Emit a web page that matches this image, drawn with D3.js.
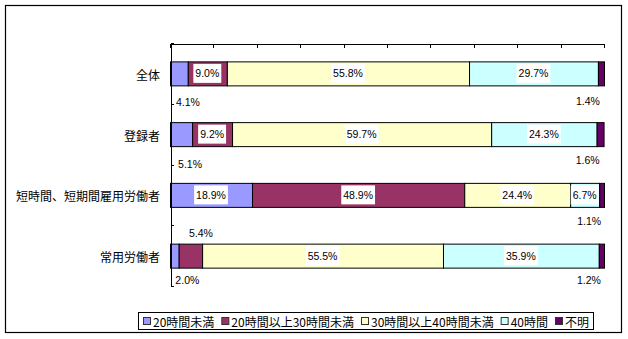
<!DOCTYPE html>
<html><head><meta charset="utf-8">
<script src="https://cdn.jsdelivr.net/npm/d3@7"></script>
<style>
html,body{margin:0;padding:0;background:#fff;}
svg{display:block;}
</style></head>
<body><svg id="chart" width="628" height="339"></svg>
<script>
// ---- data ----
const categories = ["全体", "登録者", "短時間、短期間雇用労働者", "常用労働者"];
const seriesNames = ["20時間未満", "20時間以上30時間未満", "30時間以上40時間未満", "40時間", "不明"];
const under20 = [4.1, 5.1, 18.9, 2.0];
const from20to30 = [9.0, 9.2, 48.9, 5.4];
const from30to40 = [55.8, 59.7, 24.4, 55.5];
const exactly40 = [29.7, 24.3, 6.7, 35.9];
const unknown = [1.4, 1.6, 1.1, 1.2];
const xTickValues = [0, 10, 20, 30, 40, 50, 60, 70, 80, 90, 100];

// ---- styling / placement ----
const colors = ["#9999ff", "#993366", "#ffffcc", "#ccffff", "#660066"];
// labels that sit outside the bar: [dx, dy] from segment centre
const outsideLabel = {
  "0|0": [9, 29], "0|4": [-13, 28],
  "1|0": [9, 30], "1|4": [-12.5, 26],
  "2|4": [-12.5, 26.5],
  "3|0": [13, 24], "3|1": [10.5, -23], "3|4": [-12.5, 24]
};

const svg = d3.select("#chart");
const series = [under20, from20to30, from30to40, exactly40, unknown];
const rows = categories.map((c, i) => {
  const o = { cat: c };
  seriesNames.forEach((s, j) => o[s] = series[j][i]);
  return o;
});
const stacked = d3.stack().keys(seriesNames)(rows);

const plot = { left: 170, right: 604, top: 43, bottom: 286 };
const x = d3.scaleLinear().domain([0, 100]).range([plot.left, plot.right]);
const y = d3.scaleBand().domain(categories).range([plot.top, plot.bottom]).padding(0);
const barH = 24;

// outer frame
svg.append("rect").attr("x", 5.5).attr("y", 5.5).attr("width", 616).attr("height", 327)
  .attr("fill", "#fff").attr("stroke", "#000").attr("stroke-width", 1.2);

// bars
stacked.forEach((layer, j) => {
  svg.append("g").selectAll("rect").data(layer).join("rect")
    .attr("x", d => x(d[0]) + 0.5)
    .attr("y", (d, i) => y(categories[i]) + y.bandwidth() / 2 - barH / 2 + 0.5)
    .attr("width", d => Math.max(0, x(d[1]) - x(d[0])))
    .attr("height", barH)
    .attr("fill", colors[j])
    .attr("stroke", "#000").attr("stroke-width", 1);
});

// category labels
svg.append("g").selectAll("text").data(categories).join("text")
  .attr("x", 160)
  .attr("y", d => y(d) + y.bandwidth() / 2 + 1)
  .attr("text-anchor", "end").attr("dominant-baseline", "central")
  .attr("font-family", "'Noto Sans CJK JP', sans-serif").attr("font-size", 12)
  .text(d => d);

// data labels
const labG = svg.append("g");
stacked.forEach((layer, j) => {
  layer.forEach((d, i) => {
    const key = i + "|" + j;
    const cx = (x(d[0]) + x(d[1])) / 2;
    const cy = y(categories[i]) + y.bandwidth() / 2;
    const off = outsideLabel[key] || [0, 0];
    const g = labG.append("g").attr("transform", `translate(${cx + off[0]},${cy + off[1]})`);
    const t = g.append("text")
      .attr("text-anchor", "middle").attr("dominant-baseline", "central")
      .attr("font-family", "'Liberation Sans', Arial, sans-serif").attr("font-size", 10.5)
      .text(series[j][i].toFixed(1) + "%");
    const w = t.node().getComputedTextLength();
    if (!outsideLabel[key]) {
      g.insert("rect", "text").attr("x", -w / 2 - 2).attr("y", -9.5)
        .attr("width", w + 4).attr("height", 19).attr("fill", "#fff");
    }
  });
});

// top value axis (ticks pointing into plot, no labels)
svg.append("g").attr("transform", `translate(0,${plot.top + 0.5})`)
  .call(d3.axisBottom(x).tickValues(xTickValues).tickSize(4).tickSizeOuter(4).tickFormat(""))
  .call(g => g.selectAll("path,line").attr("stroke", "#000").attr("shape-rendering", "crispEdges"));

// left category axis with ticks at category boundaries
const yEdge = d3.scaleLinear().domain([0, categories.length]).range([plot.top, plot.bottom]);
svg.append("g").attr("transform", `translate(${plot.left + 0.5},0)`)
  .call(d3.axisRight(yEdge).ticks(categories.length).tickSize(3).tickSizeOuter(0).tickFormat(""))
  .call(g => g.selectAll("path,line").attr("stroke", "#000").attr("shape-rendering", "crispEdges"));

// legend
const lg = { x: 138.5, y: 312.5, w: 455, h: 17 };
svg.append("rect").attr("x", lg.x).attr("y", lg.y).attr("width", lg.w).attr("height", lg.h)
  .attr("fill", "#fff").attr("stroke", "#000").attr("stroke-width", 1);
const legG = svg.append("g");
const items = seriesNames.map((s, j) => {
  const g = legG.append("g");
  g.append("rect").attr("x", 0.5).attr("y", -3.5).attr("width", 7).attr("height", 7)
    .attr("fill", colors[j]).attr("stroke", "#333").attr("stroke-width", 1);
  const t = g.append("text").attr("x", 10).attr("y", 0.5).attr("dominant-baseline", "central")
    .attr("font-family", "'Noto Sans CJK JP', sans-serif").attr("font-size", 12).text(s);
  return { g, w: 10 + t.node().getComputedTextLength() };
});
const gap = 7;
const total = d3.sum(items, d => d.w) + gap * (items.length - 1);
let cx0 = lg.x + (lg.w - total) / 2;
items.forEach(it => {
  it.g.attr("transform", `translate(${cx0},${lg.y + lg.h / 2})`);
  cx0 += it.w + gap;
});
</script>
</body></html>
